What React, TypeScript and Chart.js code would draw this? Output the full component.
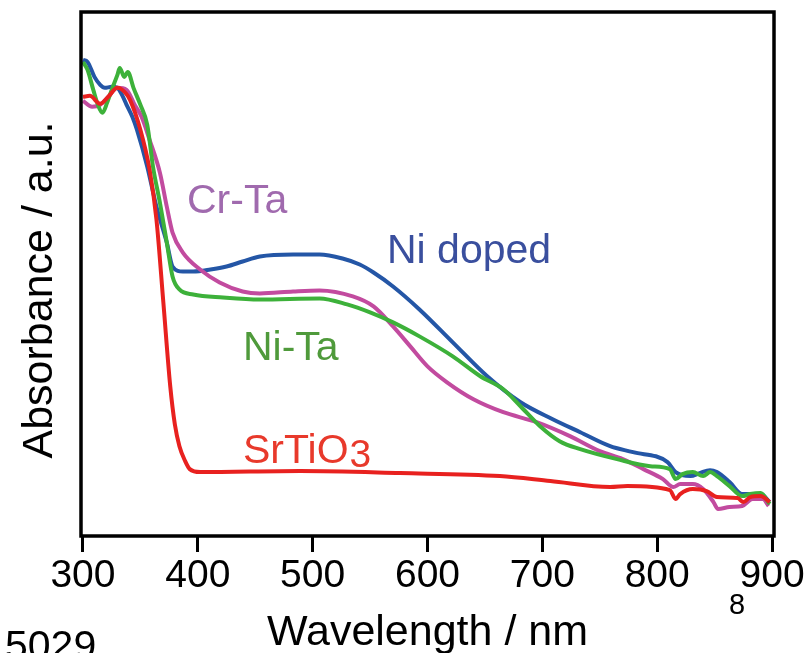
import React, { useEffect, useRef } from "react";
import { Chart, registerables } from "chart.js";

Chart.register(...registerables);

// ---- Data (wavelength in nm, absorbance in arbitrary units) ----
const wavelengthTicks = [300, 400, 500, 600, 700, 800, 900];

const srtioNm = [300, 306, 315, 322, 330, 337, 341, 350, 358, 364, 370, 376, 380, 384, 389, 393, 402, 489, 576, 663, 707, 759, 774, 811, 816, 820, 831, 843, 852, 870, 875, 881, 890, 898];
const srtioAbs = [0.88, 0.882, 0.866, 0.88, 0.898, 0.888, 0.874, 0.814, 0.734, 0.634, 0.468, 0.3, 0.224, 0.18, 0.15, 0.134, 0.128, 0.13, 0.126, 0.12, 0.11, 0.098, 0.1, 0.092, 0.074, 0.084, 0.094, 0.09, 0.078, 0.076, 0.068, 0.078, 0.08, 0.068];

const niDopedNm = [300, 304, 310, 315, 319, 325, 330, 334, 338, 343, 347, 356, 364, 373, 378, 387, 396, 411, 425, 439, 454, 483, 506, 526, 541, 553, 570, 593, 622, 652, 681, 709, 733, 759, 779, 809, 816, 829, 837, 846, 852, 863, 874, 890, 898];
const niDopedAbs = [0.954, 0.95, 0.92, 0.904, 0.898, 0.9, 0.898, 0.884, 0.864, 0.84, 0.814, 0.74, 0.66, 0.588, 0.54, 0.53, 0.53, 0.534, 0.54, 0.55, 0.56, 0.564, 0.564, 0.556, 0.544, 0.528, 0.5, 0.454, 0.388, 0.32, 0.268, 0.234, 0.208, 0.18, 0.168, 0.148, 0.128, 0.12, 0.126, 0.132, 0.128, 0.108, 0.084, 0.084, 0.068];

const niTaNm = [300, 304, 309, 313, 317, 321, 325, 330, 332, 336, 339, 344, 350, 356, 361, 367, 373, 378, 384, 396, 422, 454, 506, 530, 550, 570, 593, 622, 646, 666, 681, 698, 715, 733, 765, 794, 811, 816, 822, 831, 840, 846, 852, 863, 874, 881, 890, 898];
const niTaAbs = [0.95, 0.934, 0.894, 0.864, 0.848, 0.868, 0.894, 0.924, 0.938, 0.92, 0.93, 0.898, 0.864, 0.824, 0.74, 0.668, 0.588, 0.52, 0.494, 0.484, 0.478, 0.474, 0.476, 0.464, 0.448, 0.428, 0.4, 0.36, 0.32, 0.294, 0.26, 0.22, 0.19, 0.174, 0.154, 0.14, 0.134, 0.114, 0.124, 0.128, 0.12, 0.128, 0.12, 0.1, 0.08, 0.084, 0.086, 0.064];

const crTaNm = [300, 308, 315, 322, 330, 338, 345, 351, 358, 367, 373, 378, 387, 402, 419, 439, 454, 483, 506, 535, 553, 570, 585, 600, 617, 640, 666, 695, 724, 750, 770, 788, 805, 814, 820, 831, 840, 849, 853, 863, 874, 883, 892, 897];
const crTaAbs = [0.872, 0.86, 0.864, 0.88, 0.898, 0.894, 0.864, 0.84, 0.794, 0.728, 0.66, 0.608, 0.568, 0.534, 0.508, 0.49, 0.486, 0.49, 0.492, 0.48, 0.46, 0.42, 0.38, 0.34, 0.308, 0.274, 0.248, 0.228, 0.2, 0.17, 0.154, 0.134, 0.114, 0.098, 0.104, 0.104, 0.094, 0.068, 0.054, 0.058, 0.06, 0.074, 0.074, 0.06];

const FONT = "'Liberation Sans', Arial, Helvetica, sans-serif";

const toPoints = (xs: number[], ys: number[]) => xs.map((x, i) => ({ x, y: ys[i] }));

const overlayPlugin = {
  id: "overlay",
  afterDatasetsDraw(chart: any) {
    const { ctx, chartArea } = chart;
    const { left, right, top, bottom } = chartArea;
    ctx.save();
    // frame
    ctx.strokeStyle = "#000";
    ctx.lineWidth = 3.5;
    ctx.strokeRect(left, top, right - left, bottom - top);

    // annotations
    ctx.textBaseline = "alphabetic";
    ctx.textAlign = "left";
    ctx.font = `41px ${FONT}`;
    ctx.fillStyle = "#a06aae";
    ctx.fillText("Cr-Ta", 187, 213);
    ctx.fillStyle = "#3a4f9e";
    ctx.fillText("Ni doped", 387, 263);
    ctx.fillStyle = "#4f9a3b";
    ctx.fillText("Ni-Ta", 243, 360);
    ctx.fillStyle = "#e8392b";
    ctx.fillText("SrTiO", 243, 463);
    const w = ctx.measureText("SrTiO").width;
    ctx.font = `39px ${FONT}`;
    ctx.fillText("3", 243 + w + 1, 467);

    // axis titles
    ctx.fillStyle = "#000";
    ctx.font = `43px ${FONT}`;
    ctx.textAlign = "center";
    ctx.fillText("Wavelength / nm", (left + right) / 2, 645);
    ctx.save();
    ctx.translate(52, 290);
    ctx.rotate(-Math.PI / 2);
    ctx.fillText("Absorbance / a.u.", 0, 0);
    ctx.restore();

    // stray marks in the figure
    ctx.textAlign = "left";
    ctx.font = `29px ${FONT}`;
    ctx.fillText("8", 729, 614);
    ctx.font = `41px ${FONT}`;
    ctx.fillText("5029", 5, 659);
    ctx.restore();
  },
};

export default function App() {
  const ref = useRef<HTMLCanvasElement | null>(null);

  useEffect(() => {
    if (!ref.current) return;
    const common = { pointRadius: 0, borderWidth: 4, fill: false, cubicInterpolationMode: "monotone" as const };
    const chart = new Chart(ref.current, {
      type: "line",
      data: {
        datasets: [
          { label: "SrTiO3", data: toPoints(srtioNm, srtioAbs), borderColor: "#e8211f", ...common },
          { label: "Ni-Ta", data: toPoints(niTaNm, niTaAbs), borderColor: "#3db13a", ...common },
          { label: "Cr-Ta", data: toPoints(crTaNm, crTaAbs), borderColor: "#c24b9f", ...common },
          { label: "Ni doped", data: toPoints(niDopedNm, niDopedAbs), borderColor: "#2456a6", ...common },
        ],
      },
      options: {
        responsive: false,
        animation: false,
        events: [],
        layout: { padding: { top: 12, right: 37, left: 0, bottom: 0 } },
        plugins: { legend: { display: false }, tooltip: { enabled: false }, title: { display: false } },
        scales: {
          x: {
            type: "linear",
            min: 298.3,
            max: 901.7,
            afterBuildTicks: (scale: any) => {
              scale.ticks = wavelengthTicks.map((v) => ({ value: v }));
            },
            afterFit: (scale: any) => {
              scale.height = 117;
            },
            grid: {
              display: true,
              drawOnChartArea: false,
              drawTicks: true,
              tickLength: 16,
              tickWidth: 3,
              tickColor: "#000",
            },
            border: { display: false },
            ticks: {
              color: "#000",
              font: { family: FONT, size: 39 },
              padding: 1,
              maxRotation: 0,
              autoSkip: false,
              callback: (v: any) => String(v),
            },
          },
          y: {
            type: "linear",
            min: 0,
            max: 1.05,
            afterFit: (scale: any) => {
              scale.width = 81;
            },
            grid: { display: false },
            border: { display: false },
            ticks: { display: false },
          },
        },
      },
      plugins: [overlayPlugin],
    });
    return () => chart.destroy();
  }, []);

  return (
    <div style={{ position: "fixed", left: 0, top: 0, width: 811, height: 653, background: "#fff" }}>
      <canvas ref={ref} width={811} height={653} style={{ display: "block" }} />
    </div>
  );
}
